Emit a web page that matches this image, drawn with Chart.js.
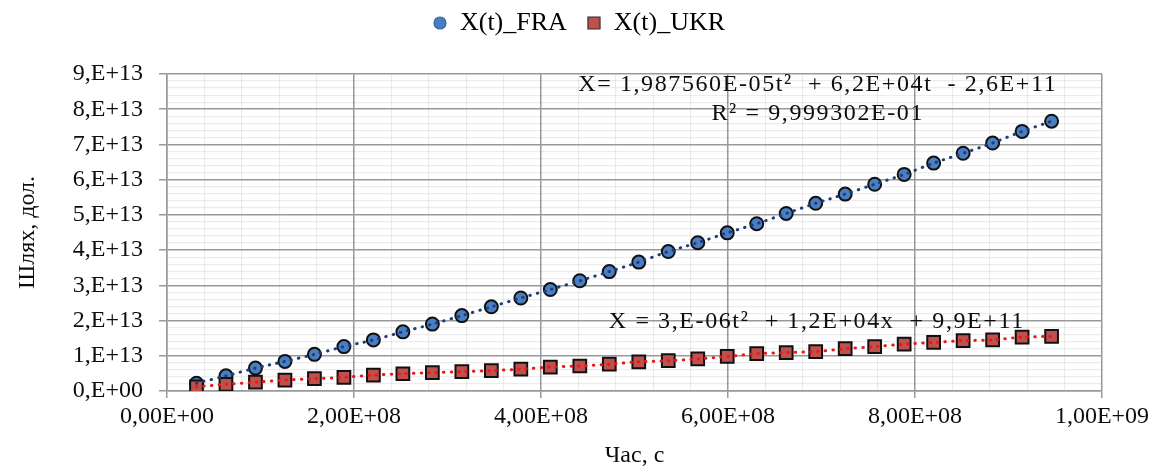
<!DOCTYPE html>
<html>
<head>
<meta charset="utf-8">
<title>X(t)</title>
<script src="https://cdn.jsdelivr.net/npm/chart.js@4.4.1/dist/chart.umd.min.js"></script>
<style>
  html, body { margin: 0; padding: 0; background: #fff; }
</style>
</head>
<body>
<canvas id="pathChart" width="1158" height="468"></canvas>
<script>
'use strict';

// time in seconds, one point per year
let timeSec = [3.1536e7, 6.3072e7, 9.4608e7, 1.26144e8, 1.5768e8, 1.89216e8, 2.20752e8, 2.52288e8, 2.83824e8, 3.1536e8,
  3.46896e8, 3.78432e8, 4.09968e8, 4.41504e8, 4.7304e8, 5.04576e8, 5.36112e8, 5.67648e8, 5.99184e8, 6.3072e8,
  6.62256e8, 6.93792e8, 7.25328e8, 7.56864e8, 7.884e8, 8.19936e8, 8.51472e8, 8.83008e8, 9.14544e8, 9.4608e8];

let pathFRA = [0.22e13, 0.43e13, 0.65e13, 0.84e13, 1.04e13, 1.26e13, 1.45e13, 1.68e13, 1.90e13, 2.14e13,
  2.39e13, 2.64e13, 2.88e13, 3.13e13, 3.39e13, 3.66e13, 3.96e13, 4.21e13, 4.49e13, 4.75e13,
  5.04e13, 5.33e13, 5.59e13, 5.87e13, 6.15e13, 6.47e13, 6.75e13, 7.04e13, 7.37e13, 7.66e13];

let pathUKR = [0.12e13, 0.19e13, 0.25e13, 0.31e13, 0.35e13, 0.39e13, 0.45e13, 0.49e13, 0.52e13, 0.55e13,
  0.58e13, 0.62e13, 0.68e13, 0.71e13, 0.76e13, 0.83e13, 0.86e13, 0.91e13, 0.98e13, 1.06e13,
  1.09e13, 1.12e13, 1.20e13, 1.26e13, 1.33e13, 1.38e13, 1.43e13, 1.45e13, 1.53e13, 1.55e13];

let seriesNames = ['X(t)_FRA', 'X(t)_UKR'];
let xTickLabels = ['0,00E+00', '2,00E+08', '4,00E+08', '6,00E+08', '8,00E+08', '1,00E+09'];
let yTickLabels = ['0,E+00', '1,E+13', '2,E+13', '3,E+13', '4,E+13', '5,E+13', '6,E+13', '7,E+13', '8,E+13', '9,E+13'];

// trendline labels, anchored in data units
let equations = [
  { text: 'X= 1,987560E-05t²  + 6,2E+04t  - 2,6E+11', x: 6.96e8, y: 8.69e13 },
  { text: 'R² = 9,999302E-01', x: 6.96e8, y: 7.86e13 },
  { text: 'X = 3,E-06t²  + 1,2E+04x  + 9,9E+11', x: 6.95e8, y: 1.96e13 }
];

const FONT = 'Liberation Serif';
const MAJOR = '#999999';
const MINOR = 'rgba(0,0,0,0.075)';

Chart.defaults.font.family = FONT;
Chart.defaults.color = '#0d0d0d';

let fraPoints = timeSec.map((t, i) => ({ x: t, y: pathFRA[i] }));
let ukrPoints = timeSec.map((t, i) => ({ x: t, y: pathUKR[i] }));

// small marker images for the legend
function legendMarker(shape, fill, stroke) {
  let c = document.createElement('canvas');
  c.width = 14;
  c.height = 14;
  let g = c.getContext('2d');
  g.fillStyle = fill;
  g.strokeStyle = stroke;
  g.lineWidth = 1.2;
  g.beginPath();
  if (shape === 'circle') {
    g.arc(7, 7, 6, 0, Math.PI * 2);
  } else {
    g.rect(1, 1, 12, 12);
  }
  g.fill();
  g.stroke();
  return c;
}

let isMajor = (c) => c.index % 5 === 0;

let equationPlugin = {
  id: 'equations',
  afterDatasetsDraw(chart) {
    let ctx = chart.ctx;
    let x = chart.scales.x;
    let y = chart.scales.y;
    ctx.save();
    ctx.font = '24px "' + FONT + '"';
    ctx.fillStyle = '#0d0d0d';
    ctx.textAlign = 'center';
    ctx.textBaseline = 'middle';
    ctx.letterSpacing = '1.6px';
    equations.forEach(eq => {
      ctx.fillText(eq.text, x.getPixelForValue(eq.x), y.getPixelForValue(eq.y));
    });
    ctx.restore();
  }
};

// eslint-disable-next-line no-unused-vars
let chart = new Chart(document.getElementById('pathChart').getContext('2d'), {
  type: 'scatter',
  data: {
    datasets: [
      {
        label: seriesNames[0],
        data: fraPoints,
        pointStyle: 'circle',
        pointRadius: 6.5,
        pointBackgroundColor: '#4a7ec2',
        pointBorderColor: '#111111',
        pointBorderWidth: 2,
        order: 2
      },
      {
        label: seriesNames[1],
        data: ukrPoints,
        pointStyle: 'rect',
        pointRadius: 9,
        pointBackgroundColor: '#c0504d',
        pointBorderColor: '#111111',
        pointBorderWidth: 2,
        order: 1
      },
      {
        label: 'trend FRA',
        data: fraPoints,
        showLine: true,
        pointRadius: 0,
        borderColor: '#1f3d7a',
        borderWidth: 3,
        borderDash: [0.5, 7],
        borderCapStyle: 'round',
        tension: 0.3,
        order: 0
      },
      {
        label: 'trend UKR',
        data: ukrPoints,
        showLine: true,
        pointRadius: 0,
        borderColor: '#e41b1b',
        borderWidth: 3,
        borderDash: [0.5, 7],
        borderCapStyle: 'round',
        tension: 0.3,
        order: 0
      }
    ]
  },
  options: {
    responsive: false,
    animation: false,
    devicePixelRatio: 1,
    events: [],
    layout: { padding: { top: -10, left: 0, right: 0, bottom: 0 } },
    plugins: {
      tooltip: { enabled: false },
      legend: {
        position: 'top',
        labels: {
          usePointStyle: true,
          boxWidth: 14,
          boxHeight: 14,
          padding: 20,
          color: '#0d0d0d',
          font: { family: FONT, size: 26 },
          generateLabels: () => [
            { text: seriesNames[0], pointStyle: legendMarker('circle', '#4a7ec2', '#3a649c'), lineWidth: 0, hidden: false, datasetIndex: 0 },
            { text: seriesNames[1], pointStyle: legendMarker('rect', '#c0504d', '#2b2b2b'), lineWidth: 0, hidden: false, datasetIndex: 1 }
          ]
        }
      },
      subtitle: {
        // empty spacer between the legend and the plot
        display: true,
        text: ' ',
        position: 'top',
        weight: 500,
        padding: 0,
        font: { size: 28, lineHeight: 1 }
      }
    },
    scales: {
      x: {
        type: 'linear',
        min: 0,
        max: 1e9,
        ticks: {
          stepSize: 4e7,
          autoSkip: false,
          maxRotation: 0,
          minRotation: 0,
          padding: 4,
          font: { family: FONT, size: 24 },
          callback: (v, i) => (i % 5 === 0 ? xTickLabels[i / 5] : '')
        },
        grid: {
          color: c => (isMajor(c) ? MAJOR : MINOR),
          lineWidth: c => (isMajor(c) ? 1.5 : 1.2),
          tickColor: c => (isMajor(c) ? MAJOR : 'rgba(0,0,0,0)'),
          tickLength: 7,
          tickWidth: 1.5
        },
        border: { color: MAJOR, width: 1.5 },
        title: {
          display: true,
          text: 'Час, с',
          padding: 0,
          font: { family: FONT, size: 24, lineHeight: 1 }
        },
        afterFit: s => {
          s.height = 77;
          s.paddingRight = 56;
        }
      },
      y: {
        type: 'linear',
        min: 0,
        max: 9e13,
        ticks: {
          stepSize: 2e12,
          autoSkip: false,
          padding: 16,
          font: { family: FONT, size: 24 },
          callback: (v, i) => (i % 5 === 0 ? yTickLabels[i / 5] : '')
        },
        grid: {
          color: c => (isMajor(c) ? MAJOR : MINOR),
          lineWidth: c => (isMajor(c) ? 1.5 : 1.2),
          tickColor: c => (isMajor(c) ? MAJOR : 'rgba(0,0,0,0)'),
          tickLength: 8,
          tickWidth: 1.5
        },
        border: { color: MAJOR, width: 1.5 },
        title: {
          display: true,
          text: 'Шлях, дол.',
          padding: { top: 16, bottom: 0 },
          font: { family: FONT, size: 24, lineHeight: 1 }
        },
        afterFit: s => {
          s.width = 167;
        }
      }
    }
  },
  plugins: [equationPlugin]
});
</script>
</body>
</html>
